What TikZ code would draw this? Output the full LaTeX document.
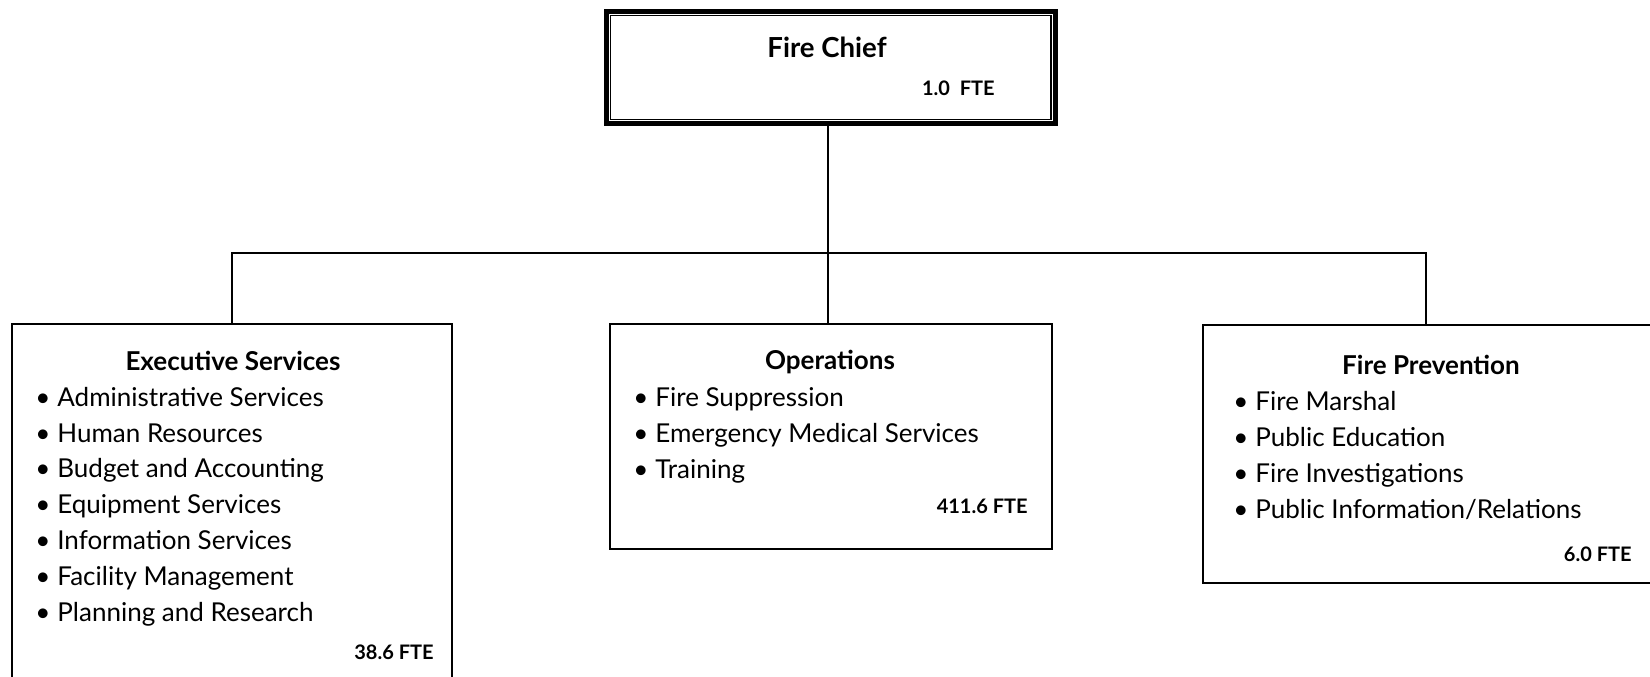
\documentclass[tikz,border=0pt]{standalone}
\usepackage{fontspec}
\setmainfont{Lato}
\usetikzlibrary{positioning,calc}

\newcommand{\bitem}[1]{\makebox[11pt][l]{\textbullet}#1}

\begin{document}
\begin{tikzpicture}[x=0.5pt, y=-0.5pt,
    unit/.style={rectangle, draw=black, line width=1.2pt, inner sep=0pt},
    head/.style={font=\fontsize{13}{16}\selectfont\bfseries, inner sep=0pt, anchor=base},
    duties/.style={font=\fontsize{13}{17.9}\selectfont, align=left, inner sep=0pt, anchor=base west},
    fte/.style={font=\fontsize{10}{12}\selectfont\bfseries, inner sep=0pt, anchor=base east},
    link/.style={line width=1pt}]
    \useasboundingbox (0,0) rectangle (1650,676);

    % Fire Chief at the top, double frame
    \node [unit, line width=2.5pt, minimum width=224.5pt, minimum height=56pt] (chief) at (831,67) {};
    \draw [line width=0.8pt] ([shift={(3.2pt,-3.5pt)}]chief.north west) rectangle ([shift={(-3.5pt,3pt)}]chief.south east);
    \node [head, font=\fontsize{13.8}{17}\selectfont\bfseries] (chiefname) at (827,57) {Fire Chief};
    \node [fte] (chieffte) at (995,95) {1.0\ \ FTE};

    % Divisions
    \node [unit, minimum width=220pt, minimum height=188pt] (exec) at (232,512) {};
    \node [unit, minimum width=221pt, minimum height=112.5pt] (ops) at (831,436.5) {};
    \node [unit, minimum width=228.5pt, minimum height=129pt] (prev) at (1431.5,454) {};

    % Reporting lines
    \coordinate (bus) at (828,253);
    \draw [link] ([xshift=-1.5pt]chief.south) -- ([xshift=-1.5pt]ops.north);
    \draw [link] (exec.north) |- (bus) -| ([xshift=-2.7pt]prev.north);

    % Executive Services (lists sit on their last baseline)
    \node [head] (exechead) at (233,370) {Executive Services};
    \node [duties] (execlist) at (35,621) {
        \bitem{Administrative Services}\\
        \bitem{Human Resources}\\
        \bitem{Budget and Accounting}\\
        \bitem{Equipment Services}\\
        \bitem{Information Services}\\
        \bitem{Facility Management}\\
        \bitem{Planning and Research}
    };
    \node [fte] (execfte) at (434,659) {38.6 FTE};

    % Operations
    \node [head] (opshead) at (830,369) {Operations};
    \node [duties] (opslist) at (633,478) {
        \bitem{Fire Suppression}\\
        \bitem{Emergency Medical Services}\\
        \bitem{Training}
    };
    \node [fte] (opsfte) at (1028,513) {411.6 FTE};

    % Fire Prevention
    \node [head] (prevhead) at (1431,374) {Fire Prevention};
    \node [duties] (prevlist) at (1233,518) {
        \bitem{Fire Marshal}\\
        \bitem{Public Education}\\
        \bitem{Fire Investigations}\\
        \bitem{Public Information/Relations}
    };
    \node [fte] (prevfte) at (1632,561) {6.0 FTE};
\end{tikzpicture}
\end{document}
